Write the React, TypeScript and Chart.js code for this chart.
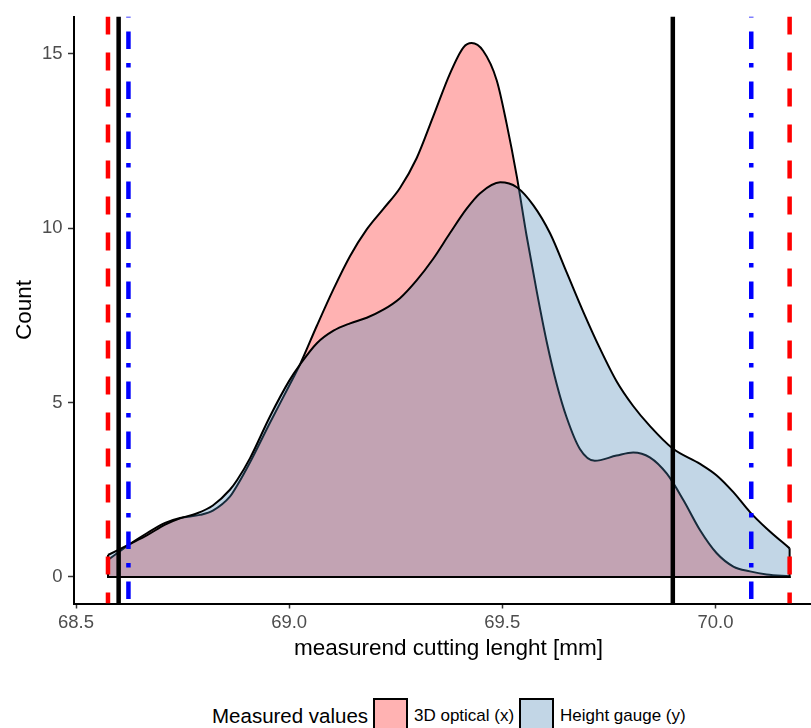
import React, { useEffect, useRef } from "react";
import { Chart, registerables } from "chart.js";

Chart.register(...registerables);

// ---- data ----
const xTicks = [68.5, 69.0, 69.5, 70.0];
const yTicks = [0, 5, 10, 15];
const xLimits = [68.4953, 70.2523];
const yLimits = [-0.76, 16.06];

const opticalX = [68.575, 68.627, 68.667, 68.709, 68.744, 68.791, 68.821, 68.861, 68.878, 68.908, 68.955, 69.0, 69.025, 69.065, 69.104, 69.143, 69.182, 69.221, 69.26, 69.299, 69.338, 69.377, 69.409, 69.428, 69.455, 69.487, 69.51, 69.534, 69.557, 69.581, 69.604, 69.628, 69.651, 69.682, 69.717, 69.768, 69.807, 69.846, 69.886, 69.925, 69.964, 70.003, 70.042, 70.081, 70.12, 70.174];
const opticalY = [0.49, 0.95, 1.26, 1.55, 1.69, 1.78, 1.9, 2.3, 2.62, 3.28, 4.42, 5.48, 6.08, 7.2, 8.25, 9.2, 9.96, 10.55, 11.15, 12.0, 13.2, 14.42, 15.18, 15.3, 15.08, 14.23, 13.0, 11.48, 9.78, 8.17, 6.75, 5.51, 4.57, 3.67, 3.33, 3.48, 3.57, 3.43, 2.96, 2.2, 1.34, 0.68, 0.3, 0.16, 0.07, 0.02];

const gaugeX = [68.575, 68.627, 68.667, 68.709, 68.744, 68.783, 68.821, 68.861, 68.878, 68.908, 68.955, 69.0, 69.025, 69.065, 69.104, 69.143, 69.182, 69.221, 69.26, 69.299, 69.338, 69.377, 69.416, 69.448, 69.495, 69.534, 69.573, 69.612, 69.651, 69.69, 69.729, 69.768, 69.807, 69.846, 69.899, 69.964, 70.003, 70.042, 70.081, 70.12, 70.174];
const gaugeY = [0.63, 0.95, 1.2, 1.5, 1.68, 1.82, 2.05, 2.5, 2.78, 3.4, 4.6, 5.62, 6.08, 6.7, 7.06, 7.27, 7.43, 7.66, 7.99, 8.5, 9.12, 9.85, 10.55, 11.0, 11.31, 11.17, 10.65, 9.85, 8.73, 7.6, 6.55, 5.61, 4.9, 4.33, 3.69, 3.24, 2.91, 2.43, 1.86, 1.39, 0.82];

const redDashedLines = [68.575, 70.174];
const blackSolidLines = [68.6, 69.9];
const blueDotDashLines = [68.623, 70.084];

const seriesNames = ["3D optical (x)", "Height gauge (y)"];
const legendTitle = "Measured values";
const xTitle = "measurend cutting lenght [mm]";
const yTitle = "Count";

// ---- styles ----
const FONT = "'Liberation Sans', Arial, Helvetica, sans-serif";
const RED_FILL = "rgba(255,0,0,0.3)";
const BLUE_FILL = "rgba(70,130,180,0.33)";
const RED_KEY = "rgb(255,178,178)";
const BLUE_KEY = "rgb(194,214,230)";

function pts(xs: number[], ys: number[]) {
  return xs.map((x, i) => ({ x, y: ys[i] }));
}

function frame(xs: number[], ys: number[]) {
  const n = xs.length - 1;
  return [
    { x: xs[0], y: ys[0] },
    { x: xs[0], y: 0 },
    { x: xs[n], y: 0 },
    { x: xs[n], y: ys[n] },
  ];
}

function vline(v: number) {
  return [
    { x: v, y: yLimits[1] },
    { x: v, y: yLimits[0] },
  ];
}

export default function App() {
  const ref = useRef<HTMLCanvasElement | null>(null);

  useEffect(() => {
    if (!ref.current) return;
    Chart.defaults.font.family = FONT;
    const base = {
      pointRadius: 0,
      pointHoverRadius: 0,
    };
    const datasets: any[] = [
      {
        ...base,
        label: seriesNames[0],
        data: pts(opticalX, opticalY),
        borderColor: "#000",
        borderWidth: 2,
        backgroundColor: RED_FILL,
        fill: "origin",
        cubicInterpolationMode: "monotone",
        order: 5,
      },
      {
        ...base,
        label: seriesNames[1],
        data: pts(gaugeX, gaugeY),
        borderColor: "#000",
        borderWidth: 2,
        backgroundColor: BLUE_FILL,
        fill: "origin",
        cubicInterpolationMode: "monotone",
        order: 4,
      },
      {
        ...base,
        label: "frame-optical",
        data: frame(opticalX, opticalY),
        borderColor: "#000",
        borderWidth: 2,
        fill: false,
        tension: 0,
        order: 3,
      },
      {
        ...base,
        label: "frame-gauge",
        data: frame(gaugeX, gaugeY),
        borderColor: "#000",
        borderWidth: 2,
        fill: false,
        tension: 0,
        order: 3,
      },
    ];
    redDashedLines.forEach((v) =>
      datasets.push({
        ...base,
        label: "red",
        data: vline(v),
        borderColor: "#ff0000",
        borderWidth: 4.5,
        borderDash: [18, 18],
        borderCapStyle: "butt",
        fill: false,
        order: 1,
      })
    );
    blackSolidLines.forEach((v) =>
      datasets.push({
        ...base,
        label: "black",
        data: vline(v),
        borderColor: "#000000",
        borderWidth: 4.5,
        fill: false,
        order: 1,
      })
    );
    blueDotDashLines.forEach((v) =>
      datasets.push({
        ...base,
        label: "blue",
        data: vline(v),
        borderColor: "#0000ff",
        borderWidth: 4.5,
        borderDash: [4.7, 14, 17.3, 14],
        borderDashOffset: 3.7,
        borderCapStyle: "butt",
        fill: false,
        order: 1,
      })
    );

    const chart = new Chart(ref.current, {
      type: "line",
      data: { datasets },
      options: {
        animation: false,
        responsive: false,
        devicePixelRatio: 1,
        layout: { padding: { top: 12, right: 12, left: 0, bottom: 0 } },
        plugins: {
          legend: { display: false },
          tooltip: { enabled: false },
        },
        scales: {
          x: {
            type: "linear",
            min: xLimits[0],
            max: xLimits[1],
            afterBuildTicks: (s: any) => {
              s.ticks = xTicks.map((v) => ({ value: v }));
            },
            afterFit: (s: any) => {
              s.height = 76.5;
            },
            ticks: {
              color: "#4d4d4d",
              font: { size: 18.5 },
              padding: 3,
              maxRotation: 0,
              callback: (v: any) => Number(v).toFixed(1),
            },
            grid: {
              drawOnChartArea: false,
              drawTicks: true,
              tickLength: 5,
              tickWidth: 1.5,
              tickColor: "#333333",
            },
            border: { display: true, color: "#000", width: 2 },
            title: {
              display: true,
              text: xTitle,
              color: "#000",
              font: { size: 22.5 },
              padding: { top: 0, bottom: 17.5 },
            },
          },
          y: {
            type: "linear",
            min: yLimits[0],
            max: yLimits[1],
            afterBuildTicks: (s: any) => {
              s.ticks = yTicks.map((v) => ({ value: v }));
            },
            afterFit: (s: any) => {
              s.width = 74;
            },
            ticks: {
              color: "#4d4d4d",
              font: { size: 18.5 },
              padding: 5.5,
              callback: (v: any) => String(v),
            },
            grid: {
              drawOnChartArea: false,
              drawTicks: true,
              tickLength: 6,
              tickWidth: 1.5,
              tickColor: "#333333",
            },
            border: { display: true, color: "#000", width: 2 },
            title: {
              display: true,
              text: yTitle,
              color: "#000",
              font: { size: 22.5 },
              padding: { top: 11.5, bottom: 0 },
            },
          },
        },
      } as any,
    });
    return () => chart.destroy();
  }, []);

  const keyBox = (left: number, color: string): React.CSSProperties => ({
    position: "absolute",
    left,
    top: 698,
    width: 35,
    height: 35,
    boxSizing: "border-box",
    border: "2px solid #000",
    background: color,
  });
  const labelStyle = (left: number): React.CSSProperties => ({
    position: "absolute",
    left,
    top: 706.5,
    fontSize: 17,
    lineHeight: "17px",
    color: "#000",
    whiteSpace: "nowrap",
  });

  return (
    <div
      style={{
        position: "fixed",
        left: 0,
        top: 0,
        width: 811,
        height: 728,
        overflow: "hidden",
        background: "#fff",
        fontFamily: FONT,
      }}
    >
      <canvas
        ref={ref}
        width={835}
        height={680}
        style={{ position: "absolute", left: 0, top: 0, width: 835, height: 680 }}
      />
      <div
        style={{
          position: "absolute",
          left: 212,
          top: 705.6,
          fontSize: 20.5,
          lineHeight: "20.5px",
          color: "#000",
          whiteSpace: "nowrap",
        }}
      >
        {legendTitle}
      </div>
      <div style={keyBox(373, RED_KEY)} />
      <div style={labelStyle(414)}>{seriesNames[0]}</div>
      <div style={keyBox(519, BLUE_KEY)} />
      <div style={labelStyle(560)}>{seriesNames[1]}</div>
    </div>
  );
}
